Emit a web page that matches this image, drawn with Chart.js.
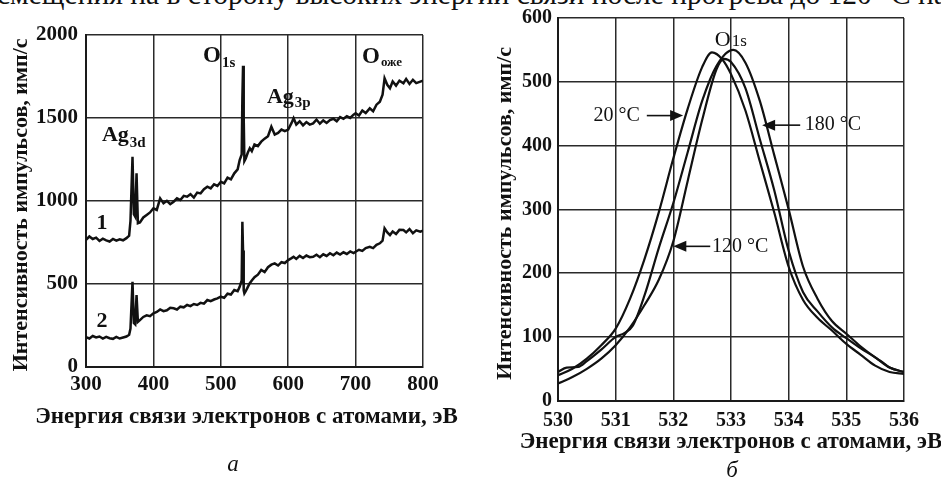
<!DOCTYPE html>
<html lang="ru">
<head>
<meta charset="utf-8">
<script src="https://cdn.jsdelivr.net/npm/chart.js@4.4.1/dist/chart.umd.min.js"></script>
<style>
  html, body { margin: 0; padding: 0; background: #fff; }
  #wrap { position: relative; width: 941px; height: 481px; overflow: hidden; font-family: 'Liberation Serif', serif; color: #111; }
  #chartA { position: absolute; left: 0; top: 0; }
  #chartB { position: absolute; left: 470px; top: 0; }
  .cap { position: absolute; font-style: italic; font-size: 23px; line-height: 23px; transform: translate(-50%, -50%); }
  #topline { position: absolute; left: -3px; top: -14px; white-space: nowrap; font-size: 23px; }
</style>
</head>
<body>
<div id="wrap">
  <div id="topline">смещения на в сторону высоких энергий связи после прогрева до 120 °С на</div>
  <canvas id="chartA" width="470" height="481"></canvas>
  <canvas id="chartB" width="471" height="481"></canvas>
  <div class="cap" style="left:233px; top:463px;">а</div>
  <div class="cap" style="left:732px; top:469px;">б</div>
</div>
<script>
// (а) обзорный спектр, кривые 1 и 2
const energyA = [300, 305, 310, 315, 320, 325, 330, 335, 340, 345, 350, 355, 360, 364, 366, 369, 371, 373, 375, 377, 380,
  385, 390, 395, 400, 405, 410, 415, 420, 425, 430, 435, 440, 445, 450, 455, 460, 465, 470, 475, 480, 485, 490, 495,
  500, 505, 510, 515, 520, 525, 528, 531, 532, 533, 534, 535, 537, 540, 543, 546, 550, 555, 560, 565, 570, 575, 580,
  585, 590, 595, 600, 605, 608, 612, 617, 622, 627, 632, 637, 642, 647, 652, 657, 662, 667, 672, 677, 682, 687, 692,
  697, 700, 705, 710, 715, 721, 726, 731, 736, 740, 743, 747, 751, 755, 760, 765, 771, 775, 780, 785, 790, 796, 800];
const curve1 = [765, 785, 770, 778, 758, 772, 762, 755, 770, 760, 768, 762, 775, 790, 880, 1266, 920, 905, 1166, 865, 870,
  900, 915, 930, 955, 945, 1015, 985, 1000, 980, 995, 1015, 1005, 1030, 1025, 1040, 1020, 1050, 1045, 1070, 1085, 1075, 1100, 1090,
  1115, 1105, 1140, 1130, 1166, 1190, 1246, 1280, 1620, 1815, 1500, 1240, 1256, 1290, 1317, 1300, 1340, 1330, 1357, 1375, 1390, 1447, 1400,
  1410, 1430, 1420, 1430, 1470, 1498, 1460, 1480, 1455, 1475, 1460, 1467, 1490, 1465, 1485, 1470, 1487, 1495, 1480, 1505, 1495, 1510, 1500,
  1520, 1528, 1515, 1545, 1530, 1558, 1540, 1580, 1598, 1640, 1739, 1700, 1679, 1720, 1695, 1725, 1709, 1735, 1705, 1730, 1710, 1719, 1725];
const curve2 = [178, 170, 185, 176, 182, 170, 180, 172, 168, 180, 170, 176, 182, 193, 230, 512, 263, 255, 432, 270, 281,
  300, 310, 305, 322, 330, 345, 335, 340, 355, 352, 345, 362, 358, 372, 365, 378, 372, 385, 380, 402, 395, 405, 412,
  422, 415, 440, 435, 462, 455, 482, 520, 874, 700, 460, 442, 455, 480, 503, 520, 540, 555, 583, 570, 600, 615, 623,
  610, 630, 625, 643, 655, 663, 650, 668, 655, 670, 660, 663, 675, 660, 678, 668, 684, 672, 688, 676, 690, 680, 695,
  685, 693, 705, 698, 715, 723, 715, 735, 744, 760, 834, 810, 794, 815, 800, 825, 824, 810, 830, 805, 822, 814, 820];
const ticksA_x = [300, 400, 500, 600, 700, 800];
const ticksA_y = [0, 500, 1000, 1500, 2000];

// (б) пик O1s при разных температурах
const e20 = [530, 530.25, 530.5, 530.75, 531, 531.25, 531.5, 531.75, 532, 532.25, 532.5, 532.67, 532.85, 533, 533.25,
  533.5, 533.75, 534, 534.25, 534.5, 534.75, 535, 535.25, 535.5, 535.75, 536];
const i20 = [40, 50, 66, 87, 113, 160, 222, 296, 380, 458, 523, 546, 535, 512, 455,
  375, 295, 210, 158, 130, 110, 89, 72, 55, 45, 42];
const e120 = [530, 530.25, 530.5, 530.75, 531, 531.25, 531.5, 531.75, 532, 532.25, 532.5, 532.75, 532.88, 533, 533.25,
  533.5, 533.75, 534, 534.25, 534.5, 534.75, 535, 535.25, 535.5, 535.75, 536];
const i120 = [27, 37, 50, 66, 87, 115, 150, 190, 250, 345, 440, 520, 536, 531, 490,
  410, 330, 235, 170, 140, 115, 98, 82, 68, 52, 45];
const e180 = [530, 530.15, 530.35, 530.5, 530.75, 531, 531.15, 531.3, 531.5, 531.75, 532, 532.25, 532.5, 532.75, 533.04,
  533.25, 533.5, 533.75, 534, 534.25, 534.5, 534.75, 535, 535.25, 535.5, 535.6, 535.75, 536];
const i180 = [45, 52, 53, 62, 80, 100, 106, 118, 165, 240, 310, 390, 470, 525, 550,
  530, 470, 385, 300, 210, 160, 125, 105, 85, 68, 62, 52, 45];

const xTitle = 'Энергия связи электронов с атомами, эВ';
const yTitle = 'Интенсивность импульсов, имп/с';

const FONT = '"Liberation Serif", "Times New Roman", serif';
const INK = '#111';

function pts(xs, ys) { return xs.map((x, i) => ({ x: x, y: ys[i] })); }

// the clipped line of text at the top: fit to page width, baseline just below the edge
(function () {
  const el = document.getElementById('topline');
  const c = document.createElement('canvas').getContext('2d');
  c.font = '23px ' + FONT;
  const w = c.measureText(el.textContent).width;
  const fs = 23 * 950 / w;
  el.style.fontSize = fs.toFixed(2) + 'px';
  el.style.lineHeight = fs.toFixed(2) + 'px';
  el.style.top = (4.5 - 0.8375 * fs).toFixed(1) + 'px';
})();

function subLabel(ctx, x, y, main, sub, size, subSize, drop, weight) {
  ctx.font = weight + ' ' + size + 'px ' + FONT;
  ctx.textAlign = 'left';
  ctx.textBaseline = 'alphabetic';
  ctx.fillText(main, x, y);
  const w = ctx.measureText(main).width;
  ctx.font = weight + ' ' + subSize + 'px ' + FONT;
  ctx.fillText(sub, x + w + 1, y + drop);
}

function arrow(ctx, x0, y0, x1, y1) {
  const dir = Math.sign(x1 - x0);
  ctx.strokeStyle = INK;
  ctx.fillStyle = INK;
  ctx.lineWidth = 1.6;
  ctx.beginPath();
  ctx.moveTo(x0, y0);
  ctx.lineTo(x1 - dir * 10, y1);
  ctx.stroke();
  ctx.beginPath();
  ctx.moveTo(x1, y1);
  ctx.lineTo(x1 - dir * 13, y1 - 5.5);
  ctx.lineTo(x1 - dir * 13, y1 + 5.5);
  ctx.closePath();
  ctx.fill();
}

// axis titles drawn at full width (the built-in title squeezes to the scale length)
function titles(xShift, xTitleY, yTitleX) {
  return {
    id: 'axisTitles',
    afterDraw(chart) {
      const ctx = chart.ctx, a = chart.chartArea;
      ctx.save();
      ctx.fillStyle = INK;
      ctx.textAlign = 'center';
      ctx.textBaseline = 'middle';
      ctx.font = 'bold 23px ' + FONT;
      ctx.fillText(xTitle, (a.left + a.right) / 2 + xShift, xTitleY);
      ctx.translate(yTitleX, (a.top + a.bottom) / 2 + 4);
      ctx.rotate(-Math.PI / 2);
      ctx.font = 'bold 22px ' + FONT;
      ctx.fillText(yTitle, 0, 0);
      ctx.restore();
    }
  };
}

const labelsA = {
  id: 'labelsA',
  afterDatasetsDraw(chart) {
    const ctx = chart.ctx, sx = chart.scales.x, sy = chart.scales.y;
    ctx.save();
    ctx.fillStyle = INK;
    subLabel(ctx, sx.getPixelForValue(323.7), sy.getPixelForValue(1361), 'Ag', '3d', 22, 15, 6, 'bold');
    subLabel(ctx, sx.getPixelForValue(473.6), sy.getPixelForValue(1837), 'O', '1s', 23, 15, 5, 'bold');
    subLabel(ctx, sx.getPixelForValue(568.5), sy.getPixelForValue(1590), 'Ag', '3p', 22, 15, 4, 'bold');
    subLabel(ctx, sx.getPixelForValue(709.5), sy.getPixelForValue(1831), 'O', 'оже', 23, 13, 3, 'bold');
    ctx.font = 'bold 22px ' + FONT;
    ctx.textAlign = 'center';
    ctx.textBaseline = 'middle';
    ctx.fillText('1', sx.getPixelForValue(323.7), sy.getPixelForValue(866));
    ctx.fillText('2', sx.getPixelForValue(323.7), sy.getPixelForValue(275));
    ctx.restore();
  }
};

const labelsB = {
  id: 'labelsB',
  afterDatasetsDraw(chart) {
    const ctx = chart.ctx, sx = chart.scales.x, sy = chart.scales.y;
    const X = v => sx.getPixelForValue(v), Y = v => sy.getPixelForValue(v);
    ctx.save();
    ctx.fillStyle = INK;
    subLabel(ctx, X(532.72), Y(556), 'O', '1s', 22, 17, 0, 'normal');
    ctx.font = '20px ' + FONT;
    ctx.textBaseline = 'middle';
    ctx.textAlign = 'right';
    ctx.fillText('20 °C', X(531.42), Y(447));
    ctx.textAlign = 'left';
    ctx.fillText('180 °C', X(534.28), Y(432));
    ctx.fillText('120 °C', X(532.67), Y(242));
    arrow(ctx, X(531.54), Y(447), X(532.17), Y(447));
    arrow(ctx, X(534.2), Y(432), X(533.54), Y(432));
    arrow(ctx, X(532.64), Y(242), X(532.0), Y(242));
    ctx.restore();
  }
};

function axis(min, max, step, tickSize, pad, fit) {
  return {
    type: 'linear', min: min, max: max,
    ticks: { stepSize: step, color: INK, padding: pad, format: { useGrouping: false },
      font: { family: FONT, size: tickSize, weight: 'bold' } },
    grid: { color: '#2a2a2a', lineWidth: 1.5, drawTicks: false },
    border: { color: '#1a1a1a', width: 2 },
    afterFit: fit
  };
}

new Chart(document.getElementById('chartA'), {
  type: 'line',
  data: {
    datasets: [
      { label: '1', data: pts(energyA, curve1) },
      { label: '2', data: pts(energyA, curve2) }
    ]
  },
  options: {
    responsive: false,
    animation: false,
    layout: { padding: { top: 35, right: 47, left: 0, bottom: 0 } },
    plugins: { legend: { display: false }, tooltip: { enabled: false } },
    elements: { point: { radius: 0 }, line: { borderWidth: 2.5, borderColor: INK, tension: 0 } },
    scales: {
      x: axis(ticksA_x[0], ticksA_x[ticksA_x.length - 1], 100, 21, 5, s => { s.height = 114.3; }),
      y: axis(ticksA_y[0], ticksA_y[ticksA_y.length - 1], 500, 21, 8, s => { s.width = 86; })
    }
  },
  plugins: [labelsA, titles(-8, 417, 21)]
});

new Chart(document.getElementById('chartB'), {
  type: 'line',
  data: {
    datasets: [
      { label: '20 °C', data: pts(e20, i20) },
      { label: '120 °C', data: pts(e120, i120) },
      { label: '180 °C', data: pts(e180, i180) }
    ]
  },
  options: {
    responsive: false,
    animation: false,
    layout: { padding: { top: 15, right: 37, left: 0, bottom: 0 } },
    plugins: { legend: { display: false }, tooltip: { enabled: false } },
    elements: { point: { radius: 0 }, line: { borderWidth: 2.2, borderColor: INK, cubicInterpolationMode: 'monotone' } },
    scales: {
      x: axis(530, 536, 1, 20, 8, s => { s.height = 80.3; }),
      y: axis(0, 600, 100, 20, 6, s => { s.width = 88; })
    }
  },
  plugins: [labelsB, titles(0, 442, 35)]
});
</script>
</body>
</html>
